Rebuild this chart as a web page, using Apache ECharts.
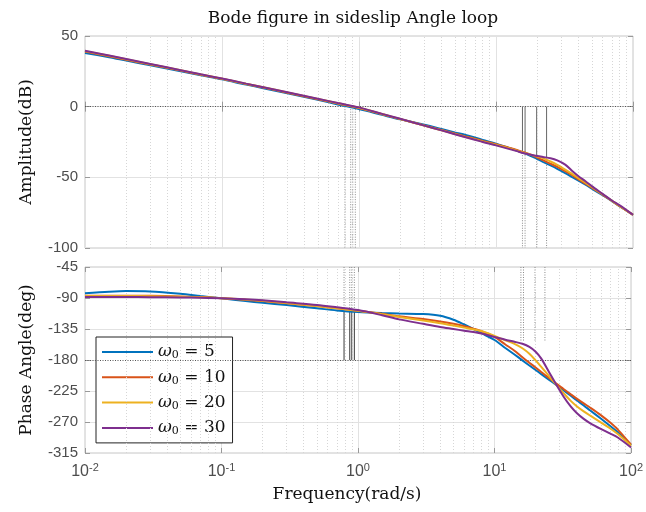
<!DOCTYPE html>
<html><head><meta charset="utf-8">
<script src="https://cdn.jsdelivr.net/npm/echarts@6/dist/echarts.min.js"></script>
<style>html,body{margin:0;padding:0;background:#fff}#c{width:646px;height:512px}</style>
</head><body><div id="c"></div>
<script>
// ---------------- data ----------------
const freq = [0.01,0.015,0.02,0.03,0.05,0.07,0.1,0.15,0.2,0.3,0.5,0.7,1,1.5,2,3,4,5,6,7,8,10,12,14,16,18,20,22,25,28,32,36,40,45,50,60,70,80,100];

const ampW5  = [38.0,35.0,32.6,29.3,25.0,22.2,19.3,15.6,13.1,9.4,4.8,1.6,-1.7,-6.0,-9.0,-12.8,-15.8,-18.2,-20.0,-21.8,-23.5,-26.2,-28.7,-30.9,-32.9,-35.0,-37.0,-39.0,-41.6,-44.0,-47.0,-49.8,-52.3,-55.2,-58.0,-62.6,-66.8,-70.5,-76.5];
const ampW10 = [39.0,35.7,33.2,29.8,25.5,22.6,19.7,16.0,13.5,9.9,5.3,2.2,-1.0,-5.6,-8.8,-13.3,-16.5,-19.0,-21.0,-22.7,-24.2,-26.6,-28.6,-30.4,-32.3,-34.1,-36.0,-37.8,-40.4,-42.6,-45.6,-48.5,-51.4,-54.5,-57.3,-62.2,-66.6,-70.4,-76.5];
const ampW20 = [39.3,36.0,33.5,30.0,25.7,22.8,19.8,16.2,13.7,10.1,5.5,2.4,-0.8,-5.4,-8.7,-13.4,-16.7,-19.3,-21.4,-23.1,-24.6,-27.0,-29.0,-30.9,-32.6,-34.0,-35.3,-36.4,-38.8,-41.2,-44.5,-47.6,-50.6,-53.8,-56.8,-62.0,-66.5,-70.3,-76.5];
const ampW30 = [39.6,36.2,33.7,30.2,25.8,22.9,19.9,16.3,13.8,10.2,5.6,2.6,-0.5,-5.3,-8.6,-13.4,-16.8,-19.5,-21.6,-23.4,-25.0,-27.4,-29.5,-31.3,-32.9,-34.0,-34.9,-35.6,-36.5,-38.0,-41.0,-45.5,-49.2,-52.8,-56.2,-61.7,-66.4,-69.8,-76.5];

const phW5  = [-83.2,-80.8,-79.8,-80.5,-84.0,-87.2,-90.5,-94.5,-97.0,-100.3,-105.0,-108.0,-110.3,-111.8,-112.5,-113.3,-115.7,-121.5,-128.5,-135.0,-141.0,-151.0,-162.5,-172.0,-180.5,-188.0,-194.5,-200.5,-208.5,-215.5,-224.0,-231.5,-238.5,-246.0,-253.0,-265.0,-275.5,-285.0,-303.5];
const phW10 = [-86.6,-86.6,-86.6,-86.8,-87.7,-88.6,-90.2,-92.7,-94.5,-97.7,-101.8,-105.0,-108.5,-113.0,-116.5,-120.5,-124.0,-127.5,-131.0,-134.5,-138.0,-146.5,-157.5,-166.5,-176.0,-184.0,-191.0,-197.5,-206.0,-213.5,-222.0,-229.5,-236.0,-243.0,-249.0,-260.0,-270.5,-281.0,-303.0];
const phW20 = [-87.0,-87.0,-87.2,-87.4,-88.2,-89.0,-90.2,-92.3,-94.0,-97.3,-101.5,-105.0,-108.5,-113.5,-117.5,-122.5,-126.5,-130.0,-133.0,-135.5,-138.0,-145.0,-151.5,-156.5,-163.0,-171.0,-180.5,-190.0,-203.0,-215.0,-228.0,-239.0,-247.0,-254.5,-260.5,-270.5,-279.0,-287.5,-304.5];
const phW30 = [-88.5,-88.5,-88.6,-88.8,-89.2,-89.6,-90.3,-91.8,-93.3,-96.3,-100.0,-103.5,-107.5,-115.0,-121.0,-127.5,-132.0,-135.0,-137.5,-139.5,-141.5,-146.5,-150.5,-153.5,-156.5,-161.0,-168.0,-178.0,-197.0,-214.0,-233.0,-247.0,-257.0,-265.5,-271.5,-280.0,-286.5,-292.5,-307.0];

const seriesNames = ['ω0 = 5','ω0 = 10','ω0 = 20','ω0 = 30'];
const omegaValues = ['5','10','20','30'];

// margin markers (crossover frequencies)
const pmFreq  = [0.79, 0.87, 0.90, 0.94];
const pmPhase = [-109, -107.5, -107.5, -107];
const gmFreq  = [15.6, 16.3, 19.8, 23.4];
const gmAmp   = [-32.6, -32.6, -35.2, -36.0];
const gmPhaseDotEnd = -152;

// ---------------- chart ----------------
const colors = ['#0072BD','#D95319','#EDB120','#7E2F8E'];
const amps = [ampW5, ampW10, ampW20, ampW30];
const phases = [phW5, phW10, phW20, phW30];
const minorFreqs = [];
for (let k = -2; k < 2; k++) for (let m = 2; m <= 9; m++) minorFreqs.push(m * Math.pow(10, k));

const SANS = 'Liberation Sans';
const SERIF = 'DejaVu Serif';

function xAx(grid, opts) {
  return Object.assign({
    type: 'log', logBase: 10, min: 0.01, max: 100, gridIndex: grid,
    axisLine: { show: false },
    axisTick: { show: true, inside: true, length: 5, lineStyle: { color: '#999' } },
    splitLine: { show: true, lineStyle: { color: '#e2e2e2', width: 1 } },
    axisLabel: { show: false }
  }, opts);
}
function yAx(grid, min, max, interval, opts) {
  return Object.assign({
    type: 'value', min: min, max: max, interval: interval, gridIndex: grid,
    axisLine: { show: false },
    axisTick: { show: true, inside: true, length: 5, lineStyle: { color: '#999' } },
    splitLine: { show: true, lineStyle: { color: '#e2e2e2', width: 1 } },
    axisLabel: { show: false }
  }, opts);
}

const series = [];
[0, 1].forEach(g => {
  const ml = minorFreqs.map(f => ({ xAxis: f, lineStyle: { type: [1, 2], color: '#d6d6d6', width: 1 } }));
  ml.push({ yAxis: g === 0 ? 0 : -180, lineStyle: { type: [1, 1.5], color: '#555', width: 1 } });
  series.push({
    type: 'line', name: 'grid' + g, xAxisIndex: g, yAxisIndex: g, data: [], silent: true,
    markLine: { silent: true, symbol: 'none', label: { show: false }, animation: false, data: ml }
  });
});

function seg(g, pts, style) {
  series.push({
    type: 'line', xAxisIndex: g, yAxisIndex: g, data: pts, symbol: 'none', silent: true,
    lineStyle: style, z: 3, animation: false
  });
}
const dotStyle = { color: '#8a8a8a', width: 1, type: [1, 1.5] };
const solidStyle = { color: '#3a3a3a', width: 1 };
for (let i = 0; i < 4; i++) {
  seg(0, [[pmFreq[i], 0], [pmFreq[i], -100]], dotStyle);
  seg(1, [[pmFreq[i], -45], [pmFreq[i], pmPhase[i]]], dotStyle);
  seg(1, [[pmFreq[i], pmPhase[i]], [pmFreq[i], -180]], solidStyle);
  seg(0, [[gmFreq[i], 0], [gmFreq[i], gmAmp[i]]], { color: '#666', width: 1 });
  seg(0, [[gmFreq[i], gmAmp[i]], [gmFreq[i], -100]], dotStyle);
  seg(1, [[gmFreq[i], -45], [gmFreq[i], gmPhaseDotEnd]], dotStyle);
}

for (let i = 0; i < 4; i++) {
  series.push({
    type: 'line', name: seriesNames[i], xAxisIndex: 0, yAxisIndex: 0,
    data: freq.map((f, j) => [f, amps[i][j]]), symbol: 'none', smooth: 0.3,
    lineStyle: { color: colors[i], width: 2 }, itemStyle: { color: colors[i] }, z: 5, animation: false
  });
  series.push({
    type: 'line', name: seriesNames[i], xAxisIndex: 1, yAxisIndex: 1,
    data: freq.map((f, j) => [f, phases[i][j]]), symbol: 'none', smooth: 0.3,
    lineStyle: { color: colors[i], width: 2 }, itemStyle: { color: colors[i] }, z: 5, animation: false
  });
}

const option = {
  animation: false,
  backgroundColor: '#fff',
  title: {
    text: 'Bode figure in sideslip Angle loop', left: 348, top: 5, textAlign: 'center',
    textStyle: { fontFamily: SERIF, fontSize: 17, fontWeight: 'normal', color: '#111' }
  },
  grid: [
    { left: 85, top: 36, width: 548, height: 212, show: true, borderColor: '#c6c6c6', borderWidth: 1, backgroundColor: '#fff' },
    { left: 85, top: 267, width: 548, height: 186, show: true, borderColor: '#c6c6c6', borderWidth: 1, backgroundColor: '#fff' }
  ],
  legend: {
    data: seriesNames, orient: 'vertical', left: 96, top: 337,
    padding: [5, 7, 5, 6], itemGap: 5.3, itemWidth: 51, itemHeight: 2, icon: 'rect',
    backgroundColor: '#fff', borderColor: '#222', borderWidth: 1, borderRadius: 0,
    formatter: name => {
      const i = seriesNames.indexOf(name);
      return '{w|ω}{s|0}{t| = ' + omegaValues[i] + '}';
    },
    textStyle: {
      lineHeight: 20,
      rich: {
        w: { fontFamily: 'DejaVu Serif', fontStyle: 'italic', fontSize: 17, color: '#111', lineHeight: 20 },
        s: { fontFamily: 'DejaVu Serif', fontSize: 11, color: '#111', padding: [7, 0, 0, 0], lineHeight: 20 },
        t: { fontFamily: 'DejaVu Serif', fontSize: 17, color: '#111', lineHeight: 20 }
      }
    }
  },
  xAxis: [
    xAx(0, {}),
    xAx(1, {
      axisLabel: {
        show: true, margin: 9, color: '#4d4d4d', showMaxLabel: true, showMinLabel: true,
        formatter: v => '{b|10}{e|' + Math.round(Math.log10(v)) + '}',
        rich: {
          b: { fontFamily: SANS, fontSize: 16, color: '#4d4d4d' },
          e: { fontFamily: SANS, fontSize: 11, color: '#4d4d4d', padding: [0, 0, 9, 0] }
        }
      },
      name: 'Frequency(rad/s)', nameLocation: 'middle', nameGap: 33,
      nameTextStyle: { fontFamily: SERIF, fontSize: 17, color: '#111', padding: [0, 22, 0, 0] }
    }),
    xAx(0, { position: 'top', splitLine: { show: false } }),
    xAx(1, { position: 'top', splitLine: { show: false } })
  ],
  yAxis: [
    yAx(0, -100, 50, 50, {
      axisLabel: { show: true, margin: 7, color: '#4d4d4d', fontFamily: SANS, fontSize: 15 },
      name: 'Amplitude(dB)', nameLocation: 'middle', nameGap: 50,
      nameTextStyle: { fontFamily: SERIF, fontSize: 17, color: '#111' }
    }),
    yAx(1, -315, -45, 45, {
      axisLabel: { show: true, margin: 7, color: '#4d4d4d', fontFamily: SANS, fontSize: 15 },
      name: 'Phase Angle(deg)', nameLocation: 'middle', nameGap: 50,
      nameTextStyle: { fontFamily: SERIF, fontSize: 17, color: '#111' }
    }),
    yAx(0, -100, 50, 50, { position: 'right', splitLine: { show: false } }),
    yAx(1, -315, -45, 45, { position: 'right', splitLine: { show: false } })
  ],
  series: series
};
const chart = echarts.init(document.getElementById('c'), null, { renderer: 'canvas' });
chart.setOption(option);
</script></body></html>
